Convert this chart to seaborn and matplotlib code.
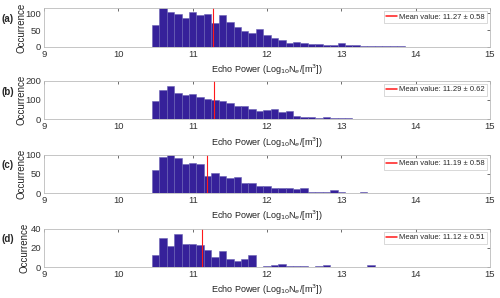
import numpy as np
import pandas as pd
import matplotlib
matplotlib.use('Agg')
import matplotlib.pyplot as plt
import seaborn as sns

# bin centres (0.1 wide) and counts
centres = np.round(np.arange(10.5, 13.85, 0.1), 2)

counts_a = [66, 115, 103, 99, 87, 105, 96, 99, 70, 96, 73, 58, 48, 40, 52, 35, 25,
            20, 12, 13, 10, 9, 7, 6, 5, 10, 5, 4, 1, 2, 3, 3, 1, 1]
counts_b = [96, 150, 172, 135, 125, 130, 118, 105, 101, 95, 85, 70, 70, 55, 45, 48, 54,
            38, 45, 18, 12, 12, 4, 11, 7, 5, 5, 2, 2, 1, 1, 1, 1, 2]
counts_c = [59, 95, 98, 91, 77, 78, 75, 44, 51, 45, 40, 42, 25, 25, 18, 18, 14,
            13, 12, 10, 13, 3, 4, 2, 7, 2, 1, 1, 3, 0, 0, 1, 1, 0]
counts_d = [12, 30, 22, 34, 24, 24, 23, 18, 10, 17, 8, 6, 8, 12, 0, 1, 2,
            3, 1, 1, 1, 0, 1, 2, 0, 0, 0, 0, 0, 2, 0, 0, 0, 0]

panels = ['(a)', '(b)', '(c)', '(d)']
means = [11.27, 11.29, 11.19, 11.12]
stds = [0.58, 0.62, 0.58, 0.51]
ymax = [115, 200, 100, 40]
yticks = [[0, 50, 100], [0, 100, 200], [0, 50, 100], [0, 20, 40]]

sns.set_style('white')
plt.rcParams['font.family'] = ['Liberation Sans', 'DejaVu Sans']

fig = plt.figure(figsize=(5, 2.98), dpi=100)
bottoms = [0.843, 0.600, 0.352, 0.104]
label_x = [-0.04, -0.04, -0.04, -0.033]

for i, counts in enumerate([counts_a, counts_b, counts_c, counts_d]):
    ax = fig.add_axes([0.088, bottoms[i], 0.892, 0.129])
    df = pd.DataFrame({'power': centres, 'n': counts})
    sns.histplot(data=df, x='power', weights='n', binwidth=0.1,
                 binrange=(10.45, 13.85), ax=ax,
                 color='#36219a', edgecolor='#6a62b4', linewidth=0.4, alpha=1)
    ax.axvline(means[i], color='#ff1a1a', lw=0.8,
               label='Mean value: %.2f \u00b1 %.2f' % (means[i], stds[i]))
    ax.set_xlim(9, 15)
    ax.set_ylim(0, ymax[i])
    ax.set_yticks(yticks[i])
    ax.set_xticks(range(9, 16))
    ax.tick_params(direction='in', length=2.5, width=0.5, labelsize=6.8,
                   top=True, right=True, colors='#333333', pad=2)
    for s in ax.spines.values():
        s.set_color('#bbbbbb')
        s.set_linewidth(0.6)
    ax.set_ylabel('Occurrence', fontsize=7, color='#222222')
    ax.yaxis.set_label_coords(label_x[i], 0.5)
    ax.set_xlabel(r'Echo Power (Log$_{10}$N$_e$/[m$^3$])', fontsize=6.5,
                  labelpad=3, color='#222222')
    fig.text(0.004, bottoms[i] + 0.129 * 0.72, panels[i], fontsize=7,
             fontweight='bold', ha='left', va='center')
    leg = ax.legend(loc='upper right', fontsize=5.5, handlelength=1.4,
                    handletextpad=0.3, borderpad=0.3, fancybox=False,
                    frameon=True, borderaxespad=0.4)
    leg.get_frame().set_edgecolor('#bbbbbb')
    leg.get_frame().set_linewidth(0.5)
    for h in leg.get_lines():
        h.set_linewidth(1.1)

fig.savefig('out.png', dpi=100)
